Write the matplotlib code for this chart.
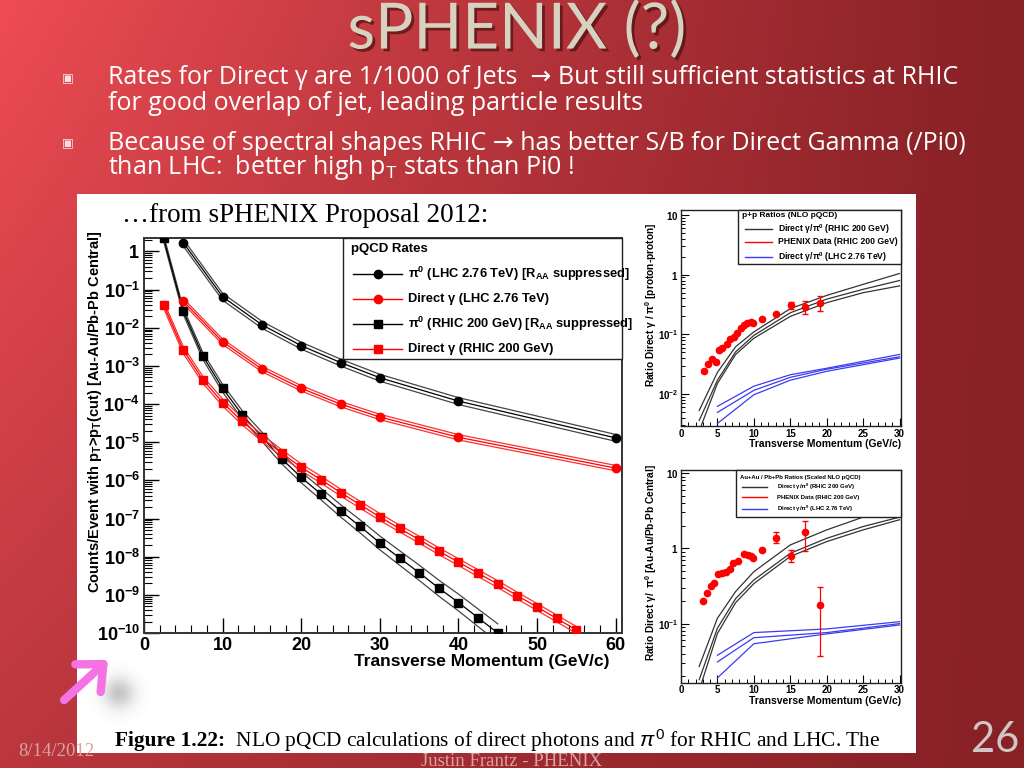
import numpy as np
import matplotlib
matplotlib.use('Agg')
import matplotlib.pyplot as plt
import matplotlib.patheffects as pe
from matplotlib.patches import Rectangle, FancyArrowPatch
from matplotlib.lines import Line2D
from matplotlib.ticker import LogLocator, MultipleLocator, NullFormatter

plt.rcParams['font.family'] = ['Liberation Sans', 'DejaVu Sans']
plt.rcParams['mathtext.fontset'] = 'custom'
plt.rcParams['mathtext.rm'] = 'Liberation Sans'
plt.rcParams['mathtext.it'] = 'Liberation Sans:italic'
plt.rcParams['mathtext.bf'] = 'Liberation Sans:bold'

# ---------------- main plot data (counts/event with pT > pT cut)
lhc_pt = [5, 10, 15, 20, 25, 30, 40, 60]
lhc_pi0 = [1.7, 0.065, 0.012, 0.0034, 0.00123, 4.9e-4, 1.2e-4, 1.3e-5]
lhc_gamma = [0.05, 0.0043, 8.3e-4, 2.6e-4, 1.0e-4, 4.6e-5, 1.35e-5, 2.1e-6]

rhic_pi0_pt = [2.5, 5, 7.5, 10, 12.5, 15, 17.5, 20, 22.5, 25, 27.5, 30,
               32.5, 35, 37.5, 40, 42.5, 45]
rhic_pi0 = [2.2, 0.027, 0.0018, 2.6e-4, 5.2e-5, 1.4e-5, 3.7e-6, 1.2e-6,
            4.4e-7, 1.6e-7, 6.2e-8, 2.3e-8, 9.3e-9, 3.8e-9, 1.5e-9,
            6.3e-10, 2.5e-10, 1.0e-10]
rhic_gamma_pt = [2.5, 5, 7.5, 10, 12.5, 15, 17.5, 20, 22.5, 25, 27.5, 30,
                 32.5, 35, 37.5, 40, 42.5, 45, 47.5, 50, 52.5, 55]
rhic_gamma = [0.04, 0.0026, 4.3e-4, 1.1e-4, 3.5e-5, 1.3e-5, 5.2e-6, 2.2e-6,
              1.05e-6, 4.8e-7, 2.3e-7, 1.1e-7, 5.5e-8, 2.8e-8, 1.4e-8,
              7.2e-9, 3.7e-9, 1.9e-9, 9.5e-10, 4.8e-10, 2.4e-10, 1.2e-10]

# half width of the uncertainty bands (decades)
band_lhc_pi0 = 0.09
band_lhc_gamma = 0.07
band_rhic_gamma = 0.09
band_rhic_pi0 = [0.08, 0.08, 0.09, 0.10, 0.11, 0.12, 0.13, 0.14, 0.15, 0.16,
                 0.17, 0.18, 0.19, 0.20, 0.21, 0.22, 0.23, 0.24]

main_xticks = [0, 10, 20, 30, 40, 50, 60]
main_yticks = [1e-10, 1e-9, 1e-8, 1e-7, 1e-6, 1e-5, 1e-4, 1e-3, 1e-2, 1e-1, 1]

# ---------------- p+p ratio panel
pp_pt = [2.5, 5, 7.5, 10, 15, 20, 25, 30]
pp_rhic_hi = [0.0053, 0.023, 0.062, 0.11, 0.27, 0.45, 0.69, 1.05]
pp_rhic_mid = [0.0036, 0.017, 0.051, 0.096, 0.23, 0.39, 0.57, 0.80]
pp_rhic_lo = [0.0024, 0.015, 0.046, 0.086, 0.20, 0.34, 0.50, 0.65]
pp_lhc_pt = [5, 10, 15, 20, 30]
pp_lhc_hi = [0.0062, 0.0135, 0.021, 0.027, 0.046]
pp_lhc_mid = [0.0049, 0.0115, 0.019, 0.026, 0.042]
pp_lhc_lo = [0.0032, 0.0097, 0.017, 0.024, 0.040]
pp_data_pt = [3.2, 3.76, 4.26, 4.76, 5.22, 5.68, 6.28, 6.73, 7.24, 7.7, 8.2,
              8.66, 9.12, 9.57, 9.94, 11.09, 13.06, 15.07, 17.09, 19.1]
pp_data = [0.0244, 0.0316, 0.038, 0.0345, 0.054, 0.060, 0.070, 0.085, 0.091,
           0.107, 0.128, 0.146, 0.156, 0.162, 0.158, 0.184, 0.218, 0.31,
           0.285, 0.34]
pp_err_lo = [0]*17 + [0.04, 0.065, 0.09]
pp_err_hi = [0]*17 + [0.04, 0.075, 0.10]

# ---------------- Au-Au / Pb-Pb ratio panel
aa_pt = [2.5, 5, 7.5, 10, 15, 20, 25, 30]
aa_rhic_hi = [0.027, 0.118, 0.267, 0.49, 1.11, 1.76, 2.6, 3.7]
aa_rhic_mid = [0.018, 0.087, 0.215, 0.38, 0.86, 1.36, 1.95, 2.6]
aa_rhic_lo = [0.013, 0.074, 0.19, 0.34, 0.78, 1.23, 1.76, 2.4]
aa_lhc_pt = [5, 10, 20, 30]
aa_lhc_hi = [0.038, 0.076, 0.085, 0.106]
aa_lhc_mid = [0.031, 0.065, 0.076, 0.100]
aa_lhc_lo = [0.019, 0.054, 0.073, 0.096]
aa_data_pt = [2.98, 3.53, 4.08, 4.58, 5.13, 5.59, 6.18, 6.73, 7.19, 7.88,
              8.66, 9.2, 9.57, 9.94, 11.1, 13.06, 15.07, 17.09, 19.1]
aa_data = [0.202, 0.254, 0.314, 0.351, 0.458, 0.472, 0.482, 0.528, 0.635,
           0.683, 0.836, 0.82, 0.78, 0.74, 0.955, 1.39, 0.78, 1.64, 0.178]
aa_err_lo = [0]*15 + [0.22, 0.13, 0.71, 0.141]
aa_err_hi = [0]*15 + [0.24, 0.175, 0.68, 0.132]

ratio_xticks = [0, 5, 10, 15, 20, 25, 30]


def fx(px):
    return px / 1024.0


def fy(py):
    return 1.0 - py / 768.0


def log_label(v):
    e = int(round(np.log10(v)))
    if e == 0:
        return r'$\mathbf{1}$'
    if e == 1:
        return r'$\mathbf{10}$'
    return r'$\mathbf{10^{%d}}$' % e


def band(ax, x, y, w, color, side_color):
    y = np.asarray(y, float)
    w = np.asarray(w, float)
    ax.plot(x, y * 10 ** w, color=side_color, lw=0.9, zorder=2)
    ax.plot(x, y / 10 ** w, color=side_color, lw=0.9, zorder=2)
    ax.plot(x, y, color=color, lw=0.9, zorder=2)


def box_legend(ax, x0, y0, title, ys, entries, fs, tfs, lx, tx, ms=0):
    ax.add_patch(Rectangle((x0, y0), 1 - x0, 1.0 - y0, transform=ax.transAxes,
                           facecolor='white', edgecolor='#222222', lw=1.0,
                           zorder=5, clip_on=False))
    ax.text(x0 + 0.018, ys[0], title, transform=ax.transAxes, fontsize=tfs,
            fontweight='bold', va='center', zorder=6)
    for yy, (lab, col, mk) in zip(ys[1:], entries):
        ax.add_line(Line2D(lx, [yy, yy], transform=ax.transAxes, color=col,
                           lw=1.0, zorder=6))
        if mk:
            ax.add_line(Line2D([(lx[0] + lx[1]) / 2], [yy], transform=ax.transAxes,
                               color=col, marker=mk, ms=ms, zorder=6))
        ax.text(tx, yy, lab, transform=ax.transAxes, fontsize=fs,
                fontweight='bold', va='center', zorder=6)


fig = plt.figure(figsize=(10.24, 7.68), dpi=100)

# background gradient + white picture panel
bg = fig.add_axes([0, 0, 1, 1], zorder=-5)
bg.axis('off')
gx, gy = np.meshgrid(np.linspace(0, 1, 256), np.linspace(0, 1, 192))
w = (1 - gx) ** 1.1 * (1 - 0.5 * gy)
left_c = np.array([238, 76, 84]) / 255.0
right_c = np.array([135, 33, 38]) / 255.0
img = right_c[None, None, :] + (left_c - right_c)[None, None, :] * w[:, :, None]
bg.imshow(img, extent=[0, 1, 0, 1], aspect='auto', origin='upper')
bg.set_xlim(0, 1)
bg.set_ylim(0, 1)
bg.add_patch(Rectangle((fx(77), fy(753)), fx(916) - fx(77), fy(194) - fy(753),
                       facecolor='white', edgecolor='none'))

# soft grey blob next to the arrow
sh = fig.add_axes([fx(86), fy(726), fx(66), 66 / 768.0], zorder=-4)
sh.axis('off')
bx, by = np.meshgrid(np.linspace(-1, 1, 80), np.linspace(-1, 1, 80))
blob = np.zeros((80, 80, 4))
blob[..., :3] = 0.5
blob[..., 3] = 0.45 * np.exp(-(bx ** 2 + by ** 2) / 0.22)
sh.imshow(blob, extent=[0, 1, 0, 1], aspect='auto')

# ---------------- main plot
ax = fig.add_axes([fx(144), fy(633), fx(622) - fx(144), fy(237.7) - fy(633)])
band(ax, rhic_pi0_pt, rhic_pi0, band_rhic_pi0, 'black', '#444444')
band(ax, lhc_pt, lhc_pi0, band_lhc_pi0, 'black', '#444444')
band(ax, rhic_gamma_pt, rhic_gamma, band_rhic_gamma, 'red', '#ff3030')
band(ax, lhc_pt, lhc_gamma, band_lhc_gamma, 'red', '#ff3030')
ax.plot(lhc_pt, lhc_pi0, 'o', color='black', ms=6, zorder=3)
ax.plot(lhc_pt, lhc_gamma, 'o', color='red', ms=6, zorder=3)
ax.plot(rhic_pi0_pt, rhic_pi0, 's', color='black', ms=5.5, zorder=3)
ax.plot(rhic_gamma_pt, rhic_gamma, 's', color='red', ms=5.5, zorder=3)
ax.set_yscale('log')
ax.set_xlim(0, 60.8)
ax.set_ylim(1e-10, 2.3)
ax.set_xticks(main_xticks)
ax.set_xticklabels([str(t) for t in main_xticks], fontweight='bold')
ax.xaxis.set_minor_locator(MultipleLocator(2))
ax.set_yticks(main_yticks)
ax.set_yticklabels([log_label(t) for t in main_yticks])
ax.yaxis.set_minor_locator(LogLocator(base=10, subs=np.arange(2, 10), numticks=20))
ax.yaxis.set_minor_formatter(NullFormatter())
ax.tick_params(which='both', direction='in', top=False, right=False, labelsize=13)
ax.tick_params(which='major', length=11, width=1.0, pad=3)
ax.tick_params(which='minor', length=6, width=0.8)
for s in ax.spines.values():
    s.set_linewidth(1.4)
    s.set_color('#333333')
ax.set_xlabel('Transverse Momentum (GeV/c)', fontsize=12.5, fontweight='bold',
              ha='right', va='center')
ax.xaxis.set_label_coords(0.973, -0.073)
ax.set_ylabel(r'Counts/Event with p$_\mathbf{T}$>p$_\mathbf{T}$(cut) [Au-Au/Pb-Pb Central]',
              fontsize=10.5, fontweight='bold', va='center')
ax.yaxis.set_label_coords(-0.1025, 0.56)
box_legend(ax, 0.416, 0.692, 'pQCD Rates', [0.971, 0.908, 0.845, 0.782, 0.719],
           [(r'π$^\mathbf{0}$ (LHC 2.76 TeV) [R$_\mathbf{AA}$ suppressed]', 'black', 'o'),
            ('Direct γ (LHC 2.76 TeV)', 'red', 'o'),
            (r'π$^\mathbf{0}$ (RHIC 200 GeV) [R$_\mathbf{AA}$ suppressed]', 'black', 's'),
            ('Direct γ (RHIC 200 GeV)', 'red', 's')],
           fs=9.3, tfs=9.5, lx=[0.438, 0.540], tx=0.553, ms=6)


def ratio_axes(rect, ylim, yticks):
    a = fig.add_axes(rect)
    a.set_yscale('log')
    a.set_xlim(0, 30.2)
    a.set_ylim(*ylim)
    a.set_xticks(ratio_xticks)
    a.set_xticklabels([str(t) for t in ratio_xticks], fontweight='bold')
    a.xaxis.set_minor_locator(MultipleLocator(1))
    a.set_yticks(yticks)
    a.set_yticklabels([log_label(t) for t in yticks])
    a.yaxis.set_minor_locator(LogLocator(base=10, subs=np.arange(2, 10), numticks=20))
    a.yaxis.set_minor_formatter(NullFormatter())
    a.tick_params(which='both', direction='in', top=False, right=False, labelsize=7)
    a.tick_params(which='major', length=6, width=0.8, pad=2)
    a.tick_params(which='minor', length=3, width=0.7)
    for s in a.spines.values():
        s.set_linewidth(1.0)
        s.set_color('#222222')
    a.set_xlabel('Transverse Momentum (GeV/c)', fontsize=7.5, fontweight='bold',
                 ha='right', va='center')
    a.xaxis.set_label_coords(1.0, -0.085)
    return a


# ---------------- p+p ratios
ax2 = ratio_axes([fx(681), fy(426), fx(901) - fx(681), fy(210) - fy(426)],
                 (0.0029, 12.2), [1e-2, 1e-1, 1, 10])
for yv in (pp_rhic_hi, pp_rhic_mid, pp_rhic_lo):
    ax2.plot(pp_pt, yv, color='#333333', lw=0.9)
for yv in (pp_lhc_hi, pp_lhc_mid, pp_lhc_lo):
    ax2.plot(pp_lhc_pt, yv, color='#3b3bf0', lw=0.9)
ax2.errorbar(pp_data_pt, pp_data, yerr=[pp_err_lo, pp_err_hi], fmt='o', color='red',
             ms=4.5, elinewidth=0.9, capsize=2, zorder=3)
ax2.set_ylabel(r'Ratio Direct γ / π$^\mathbf{0}$ [proton-proton]', fontsize=7.3,
               fontweight='bold', va='center')
ax2.yaxis.set_label_coords(-0.135, 0.56)
box_legend(ax2, 0.26, 0.75, 'p+p Ratios (NLO pQCD)', [0.974, 0.911, 0.853, 0.784],
           [(r'Direct γ/π$^\mathbf{0}$ (RHIC 200 GeV)', '#333333', None),
            ('PHENIX Data (RHIC 200 GeV)', 'red', None),
            (r'Direct γ/π$^\mathbf{0}$ (LHC 2.76 TeV)', '#3b3bf0', None)],
           fs=6.2, tfs=6.0, lx=[0.29, 0.412], tx=0.44)

# ---------------- Au-Au / Pb-Pb ratios
ax3 = ratio_axes([fx(681), fy(682.7), fx(901) - fx(681), fy(470) - fy(682.7)],
                 (0.0164, 11), [1e-1, 1, 10])
for yv in (aa_rhic_hi, aa_rhic_mid, aa_rhic_lo):
    ax3.plot(aa_pt, yv, color='#333333', lw=0.9)
for yv in (aa_lhc_hi, aa_lhc_mid, aa_lhc_lo):
    ax3.plot(aa_lhc_pt, yv, color='#3b3bf0', lw=0.9)
ax3.errorbar(aa_data_pt, aa_data, yerr=[aa_err_lo, aa_err_hi], fmt='o', color='red',
             ms=4.5, elinewidth=0.9, capsize=2, zorder=3)
ax3.set_ylabel(r'Ratio Direct γ/  π$^\mathbf{0}$ [Au-Au/Pb-Pb Central]', fontsize=7.3,
               fontweight='bold', va='center')
ax3.yaxis.set_label_coords(-0.135, 0.567)
box_legend(ax3, 0.25, 0.78, 'Au+Au / Pb+Pb Ratios (Scaled NLO pQCD)',
           [0.965, 0.921, 0.871, 0.817],
           [(r'Direct γ/π$^\mathbf{0}$ (RHIC 200 GeV)', '#333333', None),
            ('PHENIX Data (RHIC 200 GeV)', 'red', None),
            (r'Direct γ/π$^\mathbf{0}$ (LHC 2.76 TeV)', '#3b3bf0', None)],
           fs=4.3, tfs=4.3, lx=[0.276, 0.39], tx=0.435)

# ---------------- slide texts
fig.text(0.505, fy(30), 'sPHENIX (?)', ha='center', va='center', fontsize=46,
         color='#d6d2bf', family=['Lato', 'DejaVu Sans'],
         path_effects=[pe.withSimplePatchShadow(offset=(2, -2), shadow_rgbFace='#3a0a0a',
                                                alpha=0.6)])

bullet_kw = dict(fontsize=18, color='white', family=['Open Sans', 'DejaVu Sans'],
                 va='center')
for yb in (78, 143):
    fig.text(fx(68), fy(yb), '▣', fontsize=9, color='#f8e0e0', family='DejaVu Sans',
             ha='center', va='center')
fig.text(fx(108), fy(78), 'Rates for Direct γ are 1/1000 of Jets  → But still sufficient statistics at RHIC', **bullet_kw)
fig.text(fx(108), fy(104), 'for good overlap of jet, leading particle results', **bullet_kw)
fig.text(fx(108), fy(143), 'Because of spectral shapes RHIC → has better S/B for Direct Gamma (/Pi0)', **bullet_kw)
fig.text(fx(108), fy(168), r'than LHC:  better high p$_\mathrm{T}$ stats than Pi0 !', **bullet_kw)

fig.text(fx(122), fy(215), '…from sPHENIX Proposal 2012:', fontsize=19.5,
         family='Liberation Serif', va='center')

cap1 = fig.text(fx(115), fy(741), 'Figure 1.22:', fontsize=15.4, fontweight='bold',
                family='Liberation Serif', va='center')
fig.canvas.draw()
bb = cap1.get_window_extent()
fig.text(bb.x1 / 1024.0, fy(741),
         r'  NLO pQCD calculations of direct photons and $\pi^0$ for RHIC and LHC. The',
         fontsize=15.4, family='Liberation Serif', va='center')

fig.text(fx(18), fy(752), '8/14/2012', fontsize=13.5, color='#dba2a2',
         family='Liberation Serif', va='center')
fig.text(0.5, fy(761), 'Justin Frantz - PHENIX', fontsize=13.5, color='#dba2a2',
         family='Liberation Serif', va='center', ha='center')
fig.text(fx(995), fy(740), '26', fontsize=30, color='#d0c6c6',
         family=['Lato', 'DejaVu Sans'], va='center', ha='center')

# pink arrow
fig.patches.append(FancyArrowPatch((fx(62), fy(702)), (fx(110), fy(658)),
                                   transform=fig.transFigure,
                                   arrowstyle='->,head_length=0.5,head_width=0.45',
                                   mutation_scale=30, lw=6, color='#f472e4',
                                   capstyle='round', joinstyle='round', zorder=5))

fig.savefig('out.png', dpi=100)
